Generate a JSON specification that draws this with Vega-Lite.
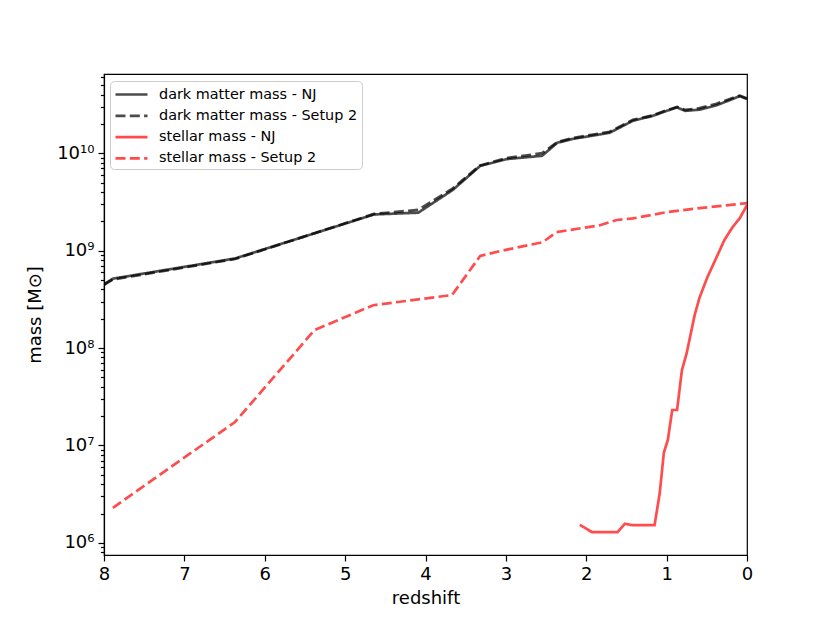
{
  "$schema": "https://vega.github.io/schema/vega-lite/v6.json",
  "width": 643,
  "height": 481,
  "autosize": {"type": "none"},
  "padding": {"left": 104, "top": 74, "right": 83, "bottom": 68},
  "background": "white",
  "config": {
    "font": "DejaVu Sans",
    "view": {"stroke": "black", "strokeWidth": 1.2},
    "axis": {
      "grid": false,
      "domainColor": "black",
      "domainWidth": 1.2,
      "tickColor": "black",
      "tickWidth": 1.2,
      "labelColor": "black",
      "titleColor": "black",
      "labelFont": "DejaVu Sans",
      "titleFont": "DejaVu Sans",
      "labelFontSize": 18,
      "titleFontSize": 18,
      "titleFontWeight": "normal",
      "labelFlush": false
    }
  },
  "data": {
    "values": [
      {"z": 8.0, "mass": 4.5e8, "series": "dark matter mass - NJ"},
      {"z": 7.89, "mass": 5.15e8, "series": "dark matter mass - NJ"},
      {"z": 6.37, "mass": 8.3e8, "series": "dark matter mass - NJ"},
      {"z": 4.64, "mass": 2.35e9, "series": "dark matter mass - NJ"},
      {"z": 4.09, "mass": 2.45e9, "series": "dark matter mass - NJ"},
      {"z": 3.66, "mass": 4.2e9, "series": "dark matter mass - NJ"},
      {"z": 3.32, "mass": 7.4e9, "series": "dark matter mass - NJ"},
      {"z": 2.99, "mass": 8.7e9, "series": "dark matter mass - NJ"},
      {"z": 2.55, "mass": 9.4e9, "series": "dark matter mass - NJ"},
      {"z": 2.36, "mass": 1.28e10, "series": "dark matter mass - NJ"},
      {"z": 2.17, "mass": 1.4e10, "series": "dark matter mass - NJ"},
      {"z": 1.71, "mass": 1.62e10, "series": "dark matter mass - NJ"},
      {"z": 1.42, "mass": 2.15e10, "series": "dark matter mass - NJ"},
      {"z": 1.17, "mass": 2.42e10, "series": "dark matter mass - NJ"},
      {"z": 1.0, "mass": 2.72e10, "series": "dark matter mass - NJ"},
      {"z": 0.87, "mass": 2.95e10, "series": "dark matter mass - NJ"},
      {"z": 0.77, "mass": 2.72e10, "series": "dark matter mass - NJ"},
      {"z": 0.59, "mass": 2.8e10, "series": "dark matter mass - NJ"},
      {"z": 0.38, "mass": 3.1e10, "series": "dark matter mass - NJ"},
      {"z": 0.18, "mass": 3.6e10, "series": "dark matter mass - NJ"},
      {"z": 0.09, "mass": 3.85e10, "series": "dark matter mass - NJ"},
      {"z": 0.0, "mass": 3.6e10, "series": "dark matter mass - NJ"},

      {"z": 8.0, "mass": 4.45e8, "series": "dark matter mass - Setup 2"},
      {"z": 7.89, "mass": 5.05e8, "series": "dark matter mass - Setup 2"},
      {"z": 6.37, "mass": 8.2e8, "series": "dark matter mass - Setup 2"},
      {"z": 4.64, "mass": 2.38e9, "series": "dark matter mass - Setup 2"},
      {"z": 4.09, "mass": 2.62e9, "series": "dark matter mass - Setup 2"},
      {"z": 3.66, "mass": 4.35e9, "series": "dark matter mass - Setup 2"},
      {"z": 3.32, "mass": 7.5e9, "series": "dark matter mass - Setup 2"},
      {"z": 2.99, "mass": 8.9e9, "series": "dark matter mass - Setup 2"},
      {"z": 2.55, "mass": 1.0e10, "series": "dark matter mass - Setup 2"},
      {"z": 2.36, "mass": 1.3e10, "series": "dark matter mass - Setup 2"},
      {"z": 2.17, "mass": 1.43e10, "series": "dark matter mass - Setup 2"},
      {"z": 1.71, "mass": 1.66e10, "series": "dark matter mass - Setup 2"},
      {"z": 1.42, "mass": 2.2e10, "series": "dark matter mass - Setup 2"},
      {"z": 1.17, "mass": 2.45e10, "series": "dark matter mass - Setup 2"},
      {"z": 1.0, "mass": 2.76e10, "series": "dark matter mass - Setup 2"},
      {"z": 0.87, "mass": 2.98e10, "series": "dark matter mass - Setup 2"},
      {"z": 0.77, "mass": 2.78e10, "series": "dark matter mass - Setup 2"},
      {"z": 0.59, "mass": 2.9e10, "series": "dark matter mass - Setup 2"},
      {"z": 0.38, "mass": 3.22e10, "series": "dark matter mass - Setup 2"},
      {"z": 0.18, "mass": 3.68e10, "series": "dark matter mass - Setup 2"},
      {"z": 0.09, "mass": 3.9e10, "series": "dark matter mass - Setup 2"},
      {"z": 0.0, "mass": 3.65e10, "series": "dark matter mass - Setup 2"},

      {"z": 2.08, "mass": 1.53e6, "series": "stellar mass - NJ"},
      {"z": 1.93, "mass": 1.29e6, "series": "stellar mass - NJ"},
      {"z": 1.61, "mass": 1.29e6, "series": "stellar mass - NJ"},
      {"z": 1.52, "mass": 1.57e6, "series": "stellar mass - NJ"},
      {"z": 1.43, "mass": 1.52e6, "series": "stellar mass - NJ"},
      {"z": 1.15, "mass": 1.52e6, "series": "stellar mass - NJ"},
      {"z": 1.085, "mass": 3.26e6, "series": "stellar mass - NJ"},
      {"z": 1.035, "mass": 8.4e6, "series": "stellar mass - NJ"},
      {"z": 0.985, "mass": 1.14e7, "series": "stellar mass - NJ"},
      {"z": 0.93, "mass": 2.31e7, "series": "stellar mass - NJ"},
      {"z": 0.87, "mass": 2.31e7, "series": "stellar mass - NJ"},
      {"z": 0.81, "mass": 5.9e7, "series": "stellar mass - NJ"},
      {"z": 0.75, "mass": 8.9e7, "series": "stellar mass - NJ"},
      {"z": 0.65, "mass": 2.2e8, "series": "stellar mass - NJ"},
      {"z": 0.59, "mass": 3.3e8, "series": "stellar mass - NJ"},
      {"z": 0.49, "mass": 5.4e8, "series": "stellar mass - NJ"},
      {"z": 0.38, "mass": 8.5e8, "series": "stellar mass - NJ"},
      {"z": 0.28, "mass": 1.29e9, "series": "stellar mass - NJ"},
      {"z": 0.18, "mass": 1.74e9, "series": "stellar mass - NJ"},
      {"z": 0.09, "mass": 2.15e9, "series": "stellar mass - NJ"},
      {"z": 0.0, "mass": 2.93e9, "series": "stellar mass - NJ"},

      {"z": 7.89, "mass": 2.29e6, "series": "stellar mass - Setup 2"},
      {"z": 6.37, "mass": 1.74e7, "series": "stellar mass - Setup 2"},
      {"z": 5.38, "mass": 1.53e8, "series": "stellar mass - Setup 2"},
      {"z": 4.65, "mass": 2.75e8, "series": "stellar mass - Setup 2"},
      {"z": 3.67, "mass": 3.5e8, "series": "stellar mass - Setup 2"},
      {"z": 3.32, "mass": 8.8e8, "series": "stellar mass - Setup 2"},
      {"z": 3.07, "mass": 9.9e8, "series": "stellar mass - Setup 2"},
      {"z": 2.54, "mass": 1.22e9, "series": "stellar mass - Setup 2"},
      {"z": 2.37, "mass": 1.55e9, "series": "stellar mass - Setup 2"},
      {"z": 1.83, "mass": 1.82e9, "series": "stellar mass - Setup 2"},
      {"z": 1.62, "mass": 2.06e9, "series": "stellar mass - Setup 2"},
      {"z": 1.42, "mass": 2.14e9, "series": "stellar mass - Setup 2"},
      {"z": 1.0, "mass": 2.48e9, "series": "stellar mass - Setup 2"},
      {"z": 0.59, "mass": 2.73e9, "series": "stellar mass - Setup 2"},
      {"z": 0.0, "mass": 3.07e9, "series": "stellar mass - Setup 2"}
    ]
  },
  "layer": [
    {
      "mark": {"type": "line", "strokeWidth": 2.7, "opacity": 0.7, "clip": true},
      "encoding": {
        "x": {
          "field": "z", "type": "quantitative",
          "scale": {"domain": [0, 8], "reverse": true, "nice": false, "zero": false},
          "axis": {"title": "redshift", "values": [0,1,2,3,4,5,6,7,8], "format": "d", "tickSize": 6, "labelPadding": 4, "titlePadding": 6, "labelFlush": false}
        },
        "y": {
          "field": "mass", "type": "quantitative",
          "scale": {"type": "log", "domain": [7.5e5, 6.5e10], "nice": false},
          "axis": {
            "title": "mass [M⊙]",
            "orient": "left",
            "values": [1e6, 1e7, 1e8, 1e9, 1e10],
            "labelExpr": "'10' + (datum.value == 1e6 ? '⁶' : datum.value == 1e7 ? '⁷' : datum.value == 1e8 ? '⁸' : datum.value == 1e9 ? '⁹' : '¹⁰')",
            "tickSize": 6,
            "labelPadding": 4,
            "titlePadding": 12,
            "labelFlush": false
          }
        },
        "color": {
          "field": "series", "type": "nominal",
          "scale": {
            "domain": ["dark matter mass - NJ", "dark matter mass - Setup 2", "stellar mass - NJ", "stellar mass - Setup 2"],
            "range": ["black", "black", "red", "red"]
          },
          "legend": {
            "title": null,
            "orient": "none",
            "legendX": 6,
            "legendY": 7,
            "symbolType": "M-1,0H3",
            "symbolSize": 256,
            "symbolStrokeWidth": 2.7,
            "symbolOpacity": 0.7,
            "labelFontSize": 14.4,
            "labelFont": "DejaVu Sans",
            "labelColor": "black",
            "labelLimit": 0,
            "labelOffset": 26,
            "rowPadding": 5.3,
            "padding": 4,
            "fillColor": "white",
            "strokeColor": "#cccccc",
            "cornerRadius": 4
          }
        },
        "strokeDash": {
          "field": "series", "type": "nominal",
          "scale": {
            "domain": ["dark matter mass - NJ", "dark matter mass - Setup 2", "stellar mass - NJ", "stellar mass - Setup 2"],
            "range": [[1, 0], [10, 4.3], [1, 0], [10, 4.3]]
          },
          "legend": {
            "title": null,
            "orient": "none",
            "legendX": 6,
            "legendY": 7,
            "symbolType": "M-1,0H3",
            "symbolSize": 256,
            "symbolStrokeWidth": 2.7,
            "symbolOpacity": 0.7,
            "labelFontSize": 14.4,
            "labelFont": "DejaVu Sans",
            "labelColor": "black",
            "labelLimit": 0,
            "labelOffset": 26,
            "rowPadding": 5.3,
            "padding": 4,
            "fillColor": "white",
            "strokeColor": "#cccccc",
            "cornerRadius": 4
          }
        }
      }
    },
    {
      "mark": {"type": "point", "opacity": 0},
      "encoding": {
        "y": {
          "field": "mass", "type": "quantitative",
          "scale": {"type": "log", "domain": [7.5e5, 6.5e10], "nice": false},
          "axis": {
            "title": null,
            "orient": "left",
            "labels": false,
            "domain": false,
            "tickSize": 3.6,
            "values": [8e5, 9e5, 2e6, 3e6, 4e6, 5e6, 6e6, 7e6, 8e6, 9e6, 2e7, 3e7, 4e7, 5e7, 6e7, 7e7, 8e7, 9e7, 2e8, 3e8, 4e8, 5e8, 6e8, 7e8, 8e8, 9e8, 2e9, 3e9, 4e9, 5e9, 6e9, 7e9, 8e9, 9e9, 2e10, 3e10, 4e10, 5e10, 6e10]
          }
        }
      }
    }
  ],
  "resolve": {"axis": {"y": "independent"}}
}
